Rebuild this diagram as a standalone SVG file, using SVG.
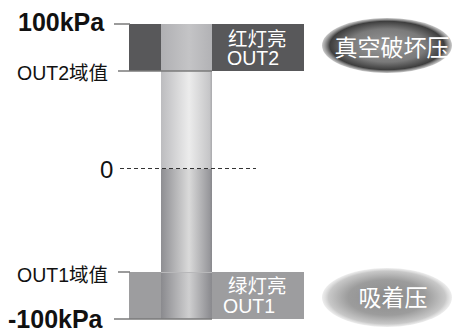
<svg xmlns="http://www.w3.org/2000/svg" width="452" height="329" viewBox="0 0 452 329">
<style>
.lbl{font-family:"Liberation Sans","Noto Sans CJK SC",sans-serif;fill:#111}
.big{font-size:25px;font-weight:bold}
.mid{font-size:19.5px}
.wt{font-family:"Liberation Sans","Noto Sans CJK SC",sans-serif;fill:#fff}
.lead{stroke:#7a7a7a;stroke-width:1.5;fill:none}
</style>
<defs>
<linearGradient id="colTop" x1="0" y1="0" x2="1" y2="0">
<stop offset="0" stop-color="#b0b0b3"/><stop offset="0.55" stop-color="#c4c4c6"/><stop offset="1" stop-color="#b2b2b5"/>
</linearGradient>
<linearGradient id="colUp" x1="0" y1="0" x2="1" y2="0">
<stop offset="0" stop-color="#bcbcbf"/><stop offset="0.55" stop-color="#ececec"/><stop offset="0.95" stop-color="#c6c6c8"/><stop offset="1" stop-color="#a8a8ab"/>
</linearGradient>
<linearGradient id="colLow" x1="0" y1="0" x2="1" y2="0">
<stop offset="0" stop-color="#8e8e92"/><stop offset="0.55" stop-color="#dadada"/><stop offset="0.95" stop-color="#98989c"/><stop offset="1" stop-color="#88888c"/>
</linearGradient>
<linearGradient id="colBot" x1="0" y1="0" x2="1" y2="0">
<stop offset="0" stop-color="#8a8a8e"/><stop offset="0.55" stop-color="#cfcfd0"/><stop offset="0.95" stop-color="#909094"/><stop offset="1" stop-color="#8a8a8e"/>
</linearGradient>
<radialGradient id="ellDark" cx="0.5" cy="0.5" r="0.5">
<stop offset="0" stop-color="#9a9a9a"/><stop offset="0.6" stop-color="#7a7a7a"/><stop offset="0.88" stop-color="#3e3e3e"/><stop offset="1" stop-color="#777" stop-opacity="0.4"/>
</radialGradient>
<radialGradient id="ellLight" cx="0.5" cy="0.5" r="0.5">
<stop offset="0" stop-color="#8a8a8a"/><stop offset="0.6" stop-color="#9c9c9c"/><stop offset="0.9" stop-color="#c8c8c8"/><stop offset="1" stop-color="#ddd" stop-opacity="0.5"/>
</radialGradient>
</defs>

<g id="scale">
<rect x="161" y="71" width="51" height="98" fill="url(#colUp)"/>
<rect x="161" y="169" width="51" height="103" fill="url(#colLow)"/>
</g>

<g id="out2-zone">
<rect x="129" y="24" width="175" height="47" fill="#58585a"/>
<rect x="161" y="24" width="51" height="47" fill="url(#colTop)"/>
<text class="wt" x="228" y="46" font-size="19.5">红灯亮</text>
<text class="wt" x="227" y="65" font-size="19.5">OUT2</text>
</g>

<g id="out1-zone">
<rect x="129" y="272" width="175" height="47" fill="#9d9d9f"/>
<rect x="161" y="272" width="51" height="47" fill="url(#colBot)"/>
<line x1="161" y1="272.5" x2="212" y2="272.5" stroke="#b8b8ba" stroke-width="1"/>
<text class="wt" x="228" y="293" font-size="19.5">绿灯亮</text>
<text class="wt" x="223" y="313" font-size="19.5">OUT1</text>
</g>

<g id="labels">
<text class="lbl big" x="18" y="31">100kPa</text>
<text class="lbl mid" x="17" y="80">OUT2域值</text>
<text class="lbl" x="100" y="178" font-size="24">0</text>
<text class="lbl mid" x="17" y="282">OUT1域值</text>
<text class="lbl big" x="8" y="328">-100kPa</text>
</g>

<g id="connectors">
<line class="lead" x1="114" y1="24" x2="130" y2="24"/>
<line class="lead" x1="118" y1="71" x2="212" y2="71"/>
<line class="lead" x1="118" y1="272" x2="130" y2="272"/>
<line class="lead" x1="114" y1="319" x2="212" y2="319"/>
<line x1="120" y1="168.5" x2="256" y2="168.5" stroke="#333" stroke-width="1" stroke-dasharray="4 3"/>
</g>

<g id="vacuum-break">
<ellipse cx="387" cy="45.5" rx="65" ry="27.5" fill="url(#ellDark)"/>
<text class="wt" x="392" y="56" font-size="23" text-anchor="middle">真空破坏压</text>
</g>

<g id="suction">
<ellipse cx="387" cy="297.5" rx="65" ry="29.5" fill="url(#ellLight)"/>
<text class="wt" x="393" y="306" font-size="23" text-anchor="middle">吸着压</text>
</g>
</svg>
